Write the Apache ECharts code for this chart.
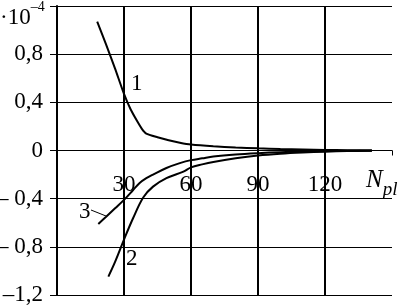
<!DOCTYPE html>
<html>
<head>
<meta charset="utf-8">
<script src="https://cdn.jsdelivr.net/npm/echarts@6/dist/echarts.min.js"></script>
<style>html,body{margin:0;padding:0;background:#fff}#c{width:404px;height:307px}</style>
</head>
<body>
<div id="c"></div>
<script>
// Data (values in units of 10^-4)
var curve1N = [18, 22, 26, 30, 33, 36, 38, 40, 45, 50, 55, 60, 70, 80, 90, 100, 110, 120, 130, 141];
var curve1V = [1.07, 0.88, 0.68, 0.47, 0.34, 0.24, 0.18, 0.14, 0.11, 0.085, 0.065, 0.05, 0.035, 0.025, 0.018, 0.012, 0.008, 0.005, 0.003, 0.001];
var curve2N = [23, 26, 30, 34, 38.6, 43, 49, 56.6, 60, 65, 70, 80, 90, 100, 110, 120, 130, 141];
var curve2V = [-1.047, -0.925, -0.74, -0.565, -0.39, -0.30, -0.23, -0.175, -0.14, -0.115, -0.095, -0.065, -0.042, -0.027, -0.017, -0.010, -0.005, -0.002];
var curve3N = [18.5, 22, 26, 30, 34, 37, 40, 43, 49, 55, 60, 65, 70, 80, 90, 100, 110, 120, 130, 141];
var curve3V = [-0.61, -0.55, -0.48, -0.41, -0.33, -0.27, -0.23, -0.20, -0.145, -0.105, -0.08, -0.065, -0.05, -0.033, -0.022, -0.014, -0.009, -0.005, -0.003, -0.001];
var xTicks = [30, 60, 90, 120];
var yTickLabels = {'0.8': '0,8', '0.4': '0,4', '0': '0', '-0.4': '– 0,4', '-0.8': '– 0,8', '-1.2': '–1,2'};

function pairs(a, b) { return a.map(function (v, i) { return [v, b[i]]; }); }
var FONT = 'Liberation Serif';
var chart = echarts.init(document.getElementById('c'));
var lineStyle = {color: '#000', width: 2};
chart.setOption({
  animation: false,
  backgroundColor: '#fff',
  grid: {left: 57, right: 12, top: 6, bottom: 12, containLabel: false, outerBoundsMode: 'none'},
  xAxis: {
    type: 'value', min: 0, max: 150, interval: 30,
    offset: -144.5,
    axisLine: {show: true, onZero: false, lineStyle: {color: '#000', width: 1}},
    axisTick: {show: true, length: 5, lineStyle: {color: '#000'}},
    axisLabel: {
      color: '#000', fontFamily: FONT, fontSize: 23, margin: 23,
      formatter: function (v) { return xTicks.indexOf(v) >= 0 ? String(v) : ''; }
    },
    splitLine: {show: true, showMinLine: false, showMaxLine: false, lineStyle: {color: '#000', width: 2}}
  },
  yAxis: {
    type: 'value', min: -1.2, max: 1.2, interval: 0.4,
    axisLine: {show: true, onZero: false, lineStyle: {color: '#000', width: 2}},
    axisTick: {show: true, length: 7, lineStyle: {color: '#000', width: 1}},
    axisLabel: {
      color: '#000', fontFamily: FONT, fontSize: 23, margin: 14,
      formatter: function (v) { var k = String(Math.round(v * 10) / 10); return yTickLabels[k] || ''; }
    },
    splitLine: {show: true, showMinLine: true, showMaxLine: true, lineStyle: {color: '#000', width: 1}}
  },
  graphic: [
    {type: 'text', left: 0, top: 0, style: {text: '{m|·10}{e|–4}', rich: {
      m: {fontFamily: FONT, fontSize: 23, fill: '#000', padding: [6, 0, 0, 0]},
      e: {fontFamily: FONT, fontSize: 14, fill: '#000', verticalAlign: 'top'}
    }}},
    {type: 'text', left: 366, top: 168, style: {text: '{n|N}{s|pl}', rich: {
      n: {fontFamily: FONT, fontStyle: 'italic', fontSize: 25, fill: '#000'},
      s: {fontFamily: FONT, fontStyle: 'italic', fontSize: 19, fill: '#000', padding: [18, 0, 0, 0]}
    }}},
    {type: 'text', left: 131, top: 72, style: {text: '1', fontFamily: FONT, fontSize: 23, fill: '#000'}},
    {type: 'text', left: 126, top: 247, style: {text: '2', fontFamily: FONT, fontSize: 23, fill: '#000'}},
    {type: 'text', left: 79, top: 200, style: {text: '3', fontFamily: FONT, fontSize: 23, fill: '#000'}},
    {type: 'line', shape: {x1: 91, y1: 210, x2: 106, y2: 216}, style: {stroke: '#000', lineWidth: 1}}
  ],
  series: [
    {type: 'line', data: pairs(curve1N, curve1V), showSymbol: false, smooth: 0.2, lineStyle: lineStyle, z: 5},
    {type: 'line', data: pairs(curve2N, curve2V), showSymbol: false, smooth: 0.35, lineStyle: lineStyle, z: 5},
    {type: 'line', data: pairs(curve3N, curve3V), showSymbol: false, smooth: 0.35, lineStyle: lineStyle, z: 5}
  ]
});
</script>
</body>
</html>
